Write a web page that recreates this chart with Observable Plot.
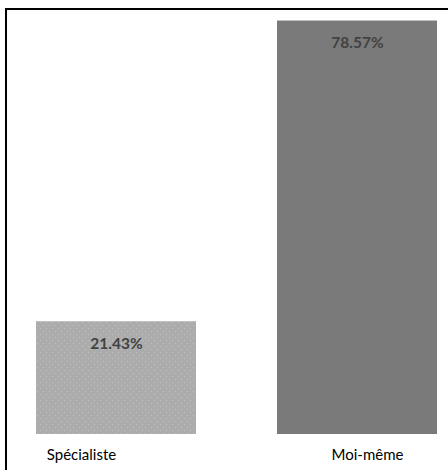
<!DOCTYPE html>
<html>
<head>
<meta charset="utf-8">
<script src="https://cdn.jsdelivr.net/npm/d3@7"></script>
<script src="https://cdn.jsdelivr.net/npm/@observablehq/plot@0.6"></script>
<style>
  html, body { margin: 0; padding: 0; background: #fff; }
  #wrap { position: relative; width: 448px; height: 470px; overflow: hidden; }
  #frame { position: absolute; left: 5px; top: 8px; right: -4px; bottom: -4px;
           border-top: 2px solid #000; border-left: 2px solid #000; pointer-events: none; }
  #chart svg { display: block; }
</style>
</head>
<body>
<div id="wrap"><div id="chart"></div><div id="frame"></div></div>
<script>
const categories = ["Spécialiste", "Moi-même"];
const values = [21.43, 78.57];
const valueLabels = ["21.43%", "78.57%"];
const fills = ["url(#dots)", "#7a7a7a"];

const data = categories.map((c, i) => ({category: c, value: values[i], label: valueLabels[i], fill: fills[i]}));

const chart = Plot.plot({
  width: 448,
  height: 470,
  marginTop: 13,
  marginBottom: 36,
  marginLeft: 36,
  marginRight: 10,
  style: {fontFamily: "Lato, 'Open Sans', sans-serif", background: "transparent"},
  x: {domain: categories, paddingInner: 0.335, paddingOuter: 0, axis: null},
  y: {domain: [0, 80], axis: null},
  marks: [
    Plot.barY(data, {x: "category", y: "value", fill: d => d.fill}),
    Plot.text(data, {x: "category", y: "value", text: "label", dy: 22, lineAnchor: "middle",
      fontSize: 15.5, fontWeight: "bold", fill: "#424242"}),
    Plot.text(data.filter(d => d.category === categories[0]), {x: "category", text: "category",
      frameAnchor: "bottom", dy: 21, lineAnchor: "middle", dx: -35, fontSize: 15, fill: "#000"}),
    Plot.text(data.filter(d => d.category === categories[1]), {x: "category", text: "category",
      frameAnchor: "bottom", dy: 21, lineAnchor: "middle", dx: 10, fontSize: 15, fill: "#000"})
  ]
});

// dotted pattern for the light bar
const ns = "http://www.w3.org/2000/svg";
const defs = document.createElementNS(ns, "defs");
defs.innerHTML = `<pattern id="dots" width="6" height="6" patternUnits="userSpaceOnUse">
  <rect width="6" height="6" fill="#acacac"></rect>
  <circle cx="1.5" cy="1.5" r="0.6" fill="#c4c4c4"></circle>
  <circle cx="4.5" cy="4.5" r="0.6" fill="#c4c4c4"></circle>
</pattern>`;
chart.insertBefore(defs, chart.firstChild);
document.getElementById("chart").appendChild(chart);
</script>
</body>
</html>
